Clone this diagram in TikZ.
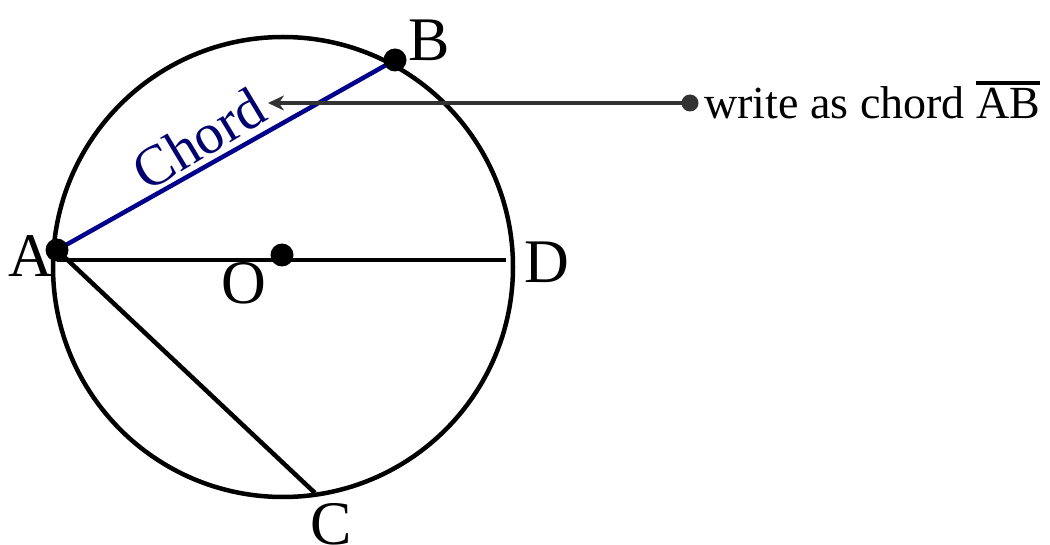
\documentclass[tikz,border=0pt]{standalone}
\usepackage{fontspec}
\setmainfont{Liberation Serif}
\usepackage{xcolor}
\definecolor{chordblue}{RGB}{0,0,140}
\definecolor{chordtext}{RGB}{0,0,110}
\definecolor{arrowgray}{RGB}{50,50,50}
\usetikzlibrary{arrows.meta,calc}
\newcommand{\segbar}[1]{\vbox{\hrule height 4pt\kern 4pt\hbox{#1}}}
\tikzset{
  dot/.style={circle,fill=black,inner sep=0pt,minimum size=23pt},
  smalldot/.style={circle,fill=arrowgray,inner sep=0pt,minimum size=17pt},
  ptlabel/.style={font=\fontsize{62}{66}\selectfont,inner sep=0pt},
  geoline/.style={line width=4.5pt,black},
}
\begin{document}
\begin{tikzpicture}[x=1pt,y=-1pt]
  \useasboundingbox (0,0) rectangle (1050,545);
  % Kreis und Punkte
  \coordinate (O) at (283,267);
  \coordinate (A) at (57,250);
  \coordinate (B) at (395,60);
  \coordinate (C) at (315,493);
  \coordinate (D) at (506,260);
  \draw[geoline] (O) circle (230);
  \draw[geoline] (57,260) -- (D);
  \draw[geoline] (A) -- (C);
  \draw[chordblue,line width=4.5pt] (A) -- (B);
  \node[dot] (dotA) at (A) {};
  \node[dot] (dotB) at (B) {};
  \node[dot] (dotO) at (282,255) {};
  % Beschriftung
  \node[ptlabel] (labA) at (31,256) {A};
  \node[ptlabel] (labB) at (429,40) {B};
  \node[ptlabel] (labO) at (244,283) {O};
  \node[ptlabel] (labC) at (331,524) {C};
  \node[ptlabel] (labD) at (547,262) {D};
  \node[chordtext,font=\fontsize{57}{60}\selectfont,inner sep=0pt,rotate=31] (chordlab) at (199,139) {Chord};
  % Hinweis
  \node[smalldot] (src) at (690,103) {};
  \coordinate (tip) at (268,103);
  \draw[arrowgray,line width=4.5pt,-{Stealth[length=16pt,width=15pt]}] (src.center) -- (tip);
  \node[anchor=west,inner sep=0pt,font=\fontsize{46}{50}\selectfont] (note) at (704,100) {write as chord \segbar{AB}};
\end{tikzpicture}
\end{document}
